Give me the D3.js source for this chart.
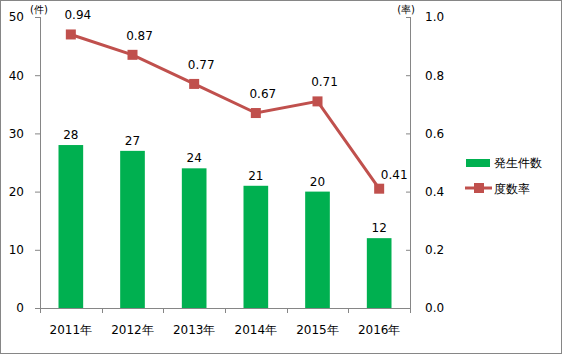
<!DOCTYPE html>
<html>
<head>
<meta charset="utf-8">
<script src="https://cdn.jsdelivr.net/npm/d3@7"></script>
<style>
  body { margin: 0; background: #fff; }
  svg { display: block; font-family: "DejaVu Sans", Verdana, sans-serif; }
</style>
</head>
<body>
<script>
const years = ['2011年', '2012年', '2013年', '2014年', '2015年', '2016年'];
const counts = [28, 27, 24, 21, 20, 12];
const rates = [0.94, 0.87, 0.77, 0.67, 0.71, 0.41];
const leftTicks = [0, 10, 20, 30, 40, 50];
const rightTicks = [0, 0.2, 0.4, 0.6, 0.8, 1.0];

const width = 562;
const height = 354;
const margin = { top: 17, right: 152, bottom: 46, left: 40 };
const boundedWidth = width - margin.left - margin.right;
const boundedHeight = height - margin.top - margin.bottom;

const green = '#00b050';
const red = '#c0504d';
const axisColor = '#868686';

const svg = d3.select('body')
  .append('svg')
  .attr('width', width)
  .attr('height', height);

svg.append('rect')
  .attr('x', 0.5).attr('y', 0.5)
  .attr('width', width - 1).attr('height', height - 1)
  .attr('fill', '#fff')
  .attr('stroke', axisColor);

const viz = svg.append('g')
  .attr('transform', `translate(${margin.left} ${margin.top})`);

const xScale = d3.scaleBand()
  .domain(years)
  .range([0, boundedWidth])
  .paddingInner(0.6)
  .paddingOuter(0.3);
const yLeft = d3.scaleLinear().domain([0, 50]).range([boundedHeight, 0]);
const yRight = d3.scaleLinear().domain([0, 1]).range([boundedHeight, 0]);

// axes
const leftAxis = d3.axisLeft(yLeft).tickValues(leftTicks).tickSize(5).tickPadding(11);
const rightAxis = d3.axisRight(yRight).tickValues(rightTicks).tickSize(4)
  .tickPadding(10).tickFormat(d3.format('.1f'));

const leftG = viz.append('g').call(leftAxis);
const rightG = viz.append('g')
  .attr('transform', `translate(${boundedWidth} 0)`)
  .call(rightAxis);
// right axis ticks point inward
rightG.selectAll('.tick line').attr('x2', -4);

[leftG, rightG].forEach(g => {
  g.select('.domain').attr('stroke', axisColor).attr('d',
    `M0.5 0 V${boundedHeight}`);
  g.selectAll('.tick line').attr('stroke', axisColor);
  g.selectAll('.tick text').attr('font-size', 12).attr('fill', '#000');
  g.attr('font-family', null);
});
rightG.selectAll('.tick text').attr('x', 15);

// bottom axis with ticks at band boundaries
const bottomG = viz.append('g').attr('transform', `translate(0 ${boundedHeight})`);
bottomG.append('path')
  .attr('stroke', axisColor)
  .attr('d', `M0 0.5 H${boundedWidth}`);
const edges = d3.range(years.length + 1).map(i => i * boundedWidth / years.length);
bottomG.selectAll('line.edge')
  .data(edges)
  .join('line')
  .attr('class', 'edge')
  .attr('x1', d => Math.round(d) + 0.5).attr('x2', d => Math.round(d) + 0.5)
  .attr('y1', 0).attr('y2', 5)
  .attr('stroke', axisColor);
bottomG.selectAll('text')
  .data(years)
  .join('text')
  .attr('x', d => xScale(d) + xScale.bandwidth() / 2)
  .attr('y', 26)
  .attr('text-anchor', 'middle')
  .attr('font-size', 12)
  .text(d => d);

// unit labels
viz.append('text')
  .attr('x', -10).attr('y', -4)
  .attr('font-size', 10)
  .text('(件)');
viz.append('text')
  .attr('x', boundedWidth + 5).attr('y', -4)
  .attr('text-anchor', 'end')
  .attr('font-size', 10)
  .text('(率)');

// bars
const bars = viz.append('g');
bars.selectAll('rect')
  .data(counts)
  .join('rect')
  .attr('x', (d, i) => xScale(years[i]))
  .attr('y', d => yLeft(d))
  .attr('width', xScale.bandwidth())
  .attr('height', d => boundedHeight - yLeft(d))
  .attr('fill', green);
bars.selectAll('text')
  .data(counts)
  .join('text')
  .attr('x', (d, i) => xScale(years[i]) + xScale.bandwidth() / 2)
  .attr('y', d => yLeft(d) - 6)
  .attr('text-anchor', 'middle')
  .attr('font-size', 12)
  .text(d => d);

// line
const cx = i => xScale(years[i]) + xScale.bandwidth() / 2;
const line = d3.line()
  .x((d, i) => cx(i))
  .y(d => yRight(d));
const lineG = viz.append('g');
lineG.append('path')
  .datum(rates)
  .attr('d', line)
  .attr('fill', 'none')
  .attr('stroke', red)
  .attr('stroke-width', 3);
lineG.selectAll('rect')
  .data(rates)
  .join('rect')
  .attr('x', (d, i) => cx(i) - 5)
  .attr('y', d => yRight(d) - 5)
  .attr('width', 10)
  .attr('height', 10)
  .attr('fill', red);
const last = rates.length - 1;
lineG.selectAll('text')
  .data(rates)
  .join('text')
  .attr('x', (d, i) => cx(i) + (i === last ? 15 : 7))
  .attr('y', (d, i) => yRight(d) - (i === last ? 10 : 15))
  .attr('text-anchor', 'middle')
  .attr('font-size', 12)
  .text(d => d3.format('.2f')(d));

// legend
const legend = svg.append('g').attr('transform', 'translate(465 0)');
legend.append('rect')
  .attr('x', 1).attr('y', 159)
  .attr('width', 24).attr('height', 8)
  .attr('fill', green);
legend.append('text')
  .attr('x', 29).attr('y', 167)
  .attr('font-size', 12)
  .text('発生件数');
legend.append('line')
  .attr('x1', 0).attr('x2', 27)
  .attr('y1', 188).attr('y2', 188)
  .attr('stroke', red).attr('stroke-width', 3);
legend.append('rect')
  .attr('x', 9).attr('y', 183)
  .attr('width', 10).attr('height', 10)
  .attr('fill', red);
legend.append('text')
  .attr('x', 29).attr('y', 193)
  .attr('font-size', 12)
  .text('度数率');
</script>
</body>
</html>
